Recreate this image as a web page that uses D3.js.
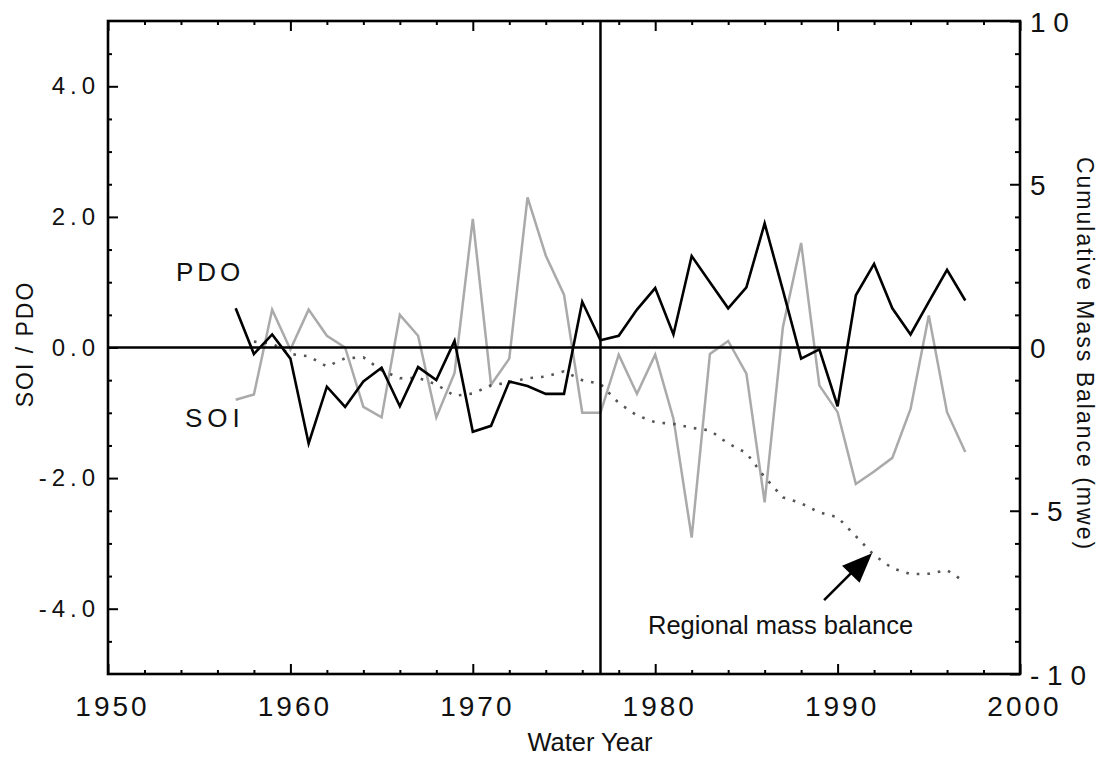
<!DOCTYPE html>
<html>
<head>
<meta charset="utf-8">
<script src="https://cdn.jsdelivr.net/npm/d3@7"></script>
<style>
  html, body { margin: 0; padding: 0; background: #fff; }
  svg { display: block; }
  text { font-family: "Liberation Sans", Arial, sans-serif; fill: #111; }
</style>
</head>
<body>
<svg id="chart" width="1104" height="757"></svg>
<script>
// ---- data ----
const years = [1957,1958,1959,1960,1961,1962,1963,1964,1965,1966,1967,1968,1969,1970,1971,1972,1973,1974,1975,1976,1977,1978,1979,1980,1981,1982,1983,1984,1985,1986,1987,1988,1989,1990,1991,1992,1993,1994,1995,1996,1997];
const pdo = [0.6,-0.1,0.2,-0.17,-1.47,-0.6,-0.91,-0.52,-0.31,-0.9,-0.3,-0.5,0.1,-1.29,-1.2,-0.52,-0.59,-0.71,-0.71,0.7,0.11,0.18,0.58,0.91,0.2,1.4,1.0,0.6,0.92,1.9,0.88,-0.17,-0.03,-0.9,0.8,1.28,0.6,0.2,0.7,1.19,0.72];
const soi = [-0.8,-0.72,0.58,-0.03,0.58,0.18,0.0,-0.91,-1.07,0.5,0.18,-1.07,-0.39,1.97,-0.57,-0.17,2.3,1.41,0.81,-1.0,-1.0,-0.11,-0.71,-0.11,-1.09,-2.91,-0.1,0.1,-0.4,-2.37,0.31,1.6,-0.58,-0.99,-2.09,-1.9,-1.69,-0.94,0.49,-0.99,-1.6];
const mbYears = [1958,1959,1960,1961,1962,1963,1964,1965,1966,1967,1968,1969,1970,1971,1972,1973,1974,1975,1976,1977,1978,1979,1980,1981,1982,1983,1984,1985,1986,1987,1988,1989,1990,1991,1992,1993,1994,1995,1996,1997];
const massBalance = [0.18,0.12,-0.2,-0.27,-0.58,-0.33,-0.3,-0.7,-0.94,-0.93,-1.13,-1.48,-1.41,-1.16,-1.07,-0.94,-0.89,-0.73,-1.0,-1.12,-1.7,-2.08,-2.29,-2.34,-2.46,-2.54,-2.94,-3.23,-3.97,-4.59,-4.77,-5.05,-5.2,-5.78,-6.36,-6.76,-6.94,-6.93,-6.82,-7.19];
const xMajorTicks = [1950,1960,1970,1980,1990,2000];
const leftMajorTicks = [-4,-2,0,2,4];
const rightMajorTicks = [-10,-5,0,5,10];
const rightTickLabels = ["- 1 0","- 5","0","5","1 0"];
const regimeShiftYear = 1977;
const arrowYear = 1992;

// ---- layout ----
const L = 108, R = 1020, T = 21, B = 674;
const svg = d3.select("#chart");
svg.append("rect").attr("width",1104).attr("height",757).attr("fill","#fff");

const x = d3.scaleLinear().domain([1950,2000]).range([L,R]);
const yL = d3.scaleLinear().domain([-5,5]).range([B,T]);
const yR = d3.scaleLinear().domain([-10,10]).range([B,T]);

// ---- data lines ----
const soiLine = d3.line().x((d,i)=>x(years[i])).y(d=>yL(d));
svg.append("path").datum(soi).attr("d",soiLine)
  .attr("fill","none").attr("stroke","#aaaaaa").attr("stroke-width",2.5).attr("stroke-linejoin","miter");

const mbLine = d3.line().x((d,i)=>x(mbYears[i])).y(d=>yR(d));
svg.append("path").datum(massBalance).attr("d",mbLine)
  .attr("fill","none").attr("stroke","#555").attr("stroke-width",2.6)
  .attr("stroke-dasharray","2.6,8");

const pdoLine = d3.line().x((d,i)=>x(years[i])).y(d=>yL(d));
svg.append("path").datum(pdo).attr("d",pdoLine)
  .attr("fill","none").attr("stroke","#000").attr("stroke-width",2.6).attr("stroke-linejoin","miter");

// ---- reference lines ----
svg.append("line").attr("x1",L).attr("x2",R).attr("y1",yL(0)).attr("y2",yL(0))
  .attr("stroke","#000").attr("stroke-width",2.5);
svg.append("line").attr("x1",x(regimeShiftYear)).attr("x2",x(regimeShiftYear)).attr("y1",T).attr("y2",B)
  .attr("stroke","#000").attr("stroke-width",2.5);

// ---- axes ----
function styleAxis(g){
  g.select(".domain").remove();
  g.selectAll(".tick line").attr("stroke","#000").attr("stroke-width",2);
}
const xMinor = d3.range(1952,2000,2).filter(v=>v%10!==0);
const leftMinor = d3.range(-4.5,5,0.5).filter(v=>Math.abs(v%2)>1e-9);
const rightMinor = d3.range(-9,10,1).filter(v=>v%5!==0);

// bottom
const gB = svg.append("g").attr("transform",`translate(0,${B})`);
gB.call(d3.axisBottom(x).tickValues(xMajorTicks).tickSize(-10).tickPadding(22).tickFormat(d3.format("d")));
gB.selectAll("text").attr("font-size",28).attr("letter-spacing","3px").attr("dx",4).attr("fill","#111");
styleAxis(gB);
svg.append("g").attr("transform",`translate(0,${B})`)
  .call(d3.axisBottom(x).tickValues(xMinor).tickSize(-4).tickFormat("")).call(styleAxis);
// top
svg.append("g").attr("transform",`translate(0,${T})`)
  .call(d3.axisTop(x).tickValues(xMajorTicks).tickSize(-10).tickFormat("")).call(styleAxis);
svg.append("g").attr("transform",`translate(0,${T})`)
  .call(d3.axisTop(x).tickValues(xMinor).tickSize(-4).tickFormat("")).call(styleAxis);
// left
const gL = svg.append("g").attr("transform",`translate(${L},0)`);
gL.call(d3.axisLeft(yL).tickValues(leftMajorTicks).tickSize(-10).tickPadding(13).tickFormat(v=>v.toFixed(1)));
gL.selectAll("text").attr("font-size",24).attr("letter-spacing","5px").attr("dx",5).attr("fill","#222");
styleAxis(gL);
svg.append("g").attr("transform",`translate(${L},0)`)
  .call(d3.axisLeft(yL).tickValues(leftMinor).tickSize(-4).tickFormat("")).call(styleAxis);
// right
const gR = svg.append("g").attr("transform",`translate(${R},0)`);
gR.call(d3.axisRight(yR).tickValues(rightMajorTicks).tickSize(-10).tickPadding(10)
  .tickFormat((v,i)=>rightTickLabels[i]));
gR.selectAll("text").attr("font-size",28).attr("letter-spacing","0px").attr("fill","#111")
  .attr("dy","0.36em");
styleAxis(gR);
svg.append("g").attr("transform",`translate(${R},0)`)
  .call(d3.axisRight(yR).tickValues(rightMinor).tickSize(-5).tickFormat("")).call(styleAxis);

// frame
svg.append("rect").attr("x",L).attr("y",T).attr("width",R-L).attr("height",B-T)
  .attr("fill","none").attr("stroke","#000").attr("stroke-width",2.6);

// ---- axis titles ----
svg.append("text").attr("x",590).attr("y",751).attr("text-anchor","middle")
  .attr("font-size",25.5).text("Water Year");
svg.append("text").attr("transform","translate(33,344) rotate(-90)").attr("text-anchor","middle")
  .attr("font-size",23).attr("letter-spacing","2px").attr("fill","#222").text("SOI / PDO");
svg.append("text").attr("transform","translate(1077,354) rotate(90)").attr("text-anchor","middle")
  .attr("font-size",23).attr("letter-spacing","2px").attr("fill","#222").text("Cumulative Mass Balance (mwe)");

// ---- series labels ----
svg.append("text").attr("x",176).attr("y",281).attr("font-size",26).attr("letter-spacing","4px").text("PDO");
svg.append("text").attr("x",185).attr("y",427).attr("font-size",26).attr("letter-spacing","5px").text("SOI");

// ---- annotation arrow ----
const mbArrow = massBalance[mbYears.indexOf(arrowYear)];
const tipX = x(arrowYear) - 2, tipY = yR(mbArrow) - 2;
svg.append("line").attr("x1",tipX-48).attr("y1",tipY+47).attr("x2",tipX-20).attr("y2",tipY+19)
  .attr("stroke","#000").attr("stroke-width",2.6);
svg.append("path")
  .attr("d",`M${tipX},${tipY} L${tipX-30},${tipY+12.5} L${tipX-12.5},${tipY+29.5} Z`)
  .attr("fill","#000");
svg.append("text").attr("x",648).attr("y",634).attr("font-size",25.5).text("Regional mass balance");
</script>
</body>
</html>
